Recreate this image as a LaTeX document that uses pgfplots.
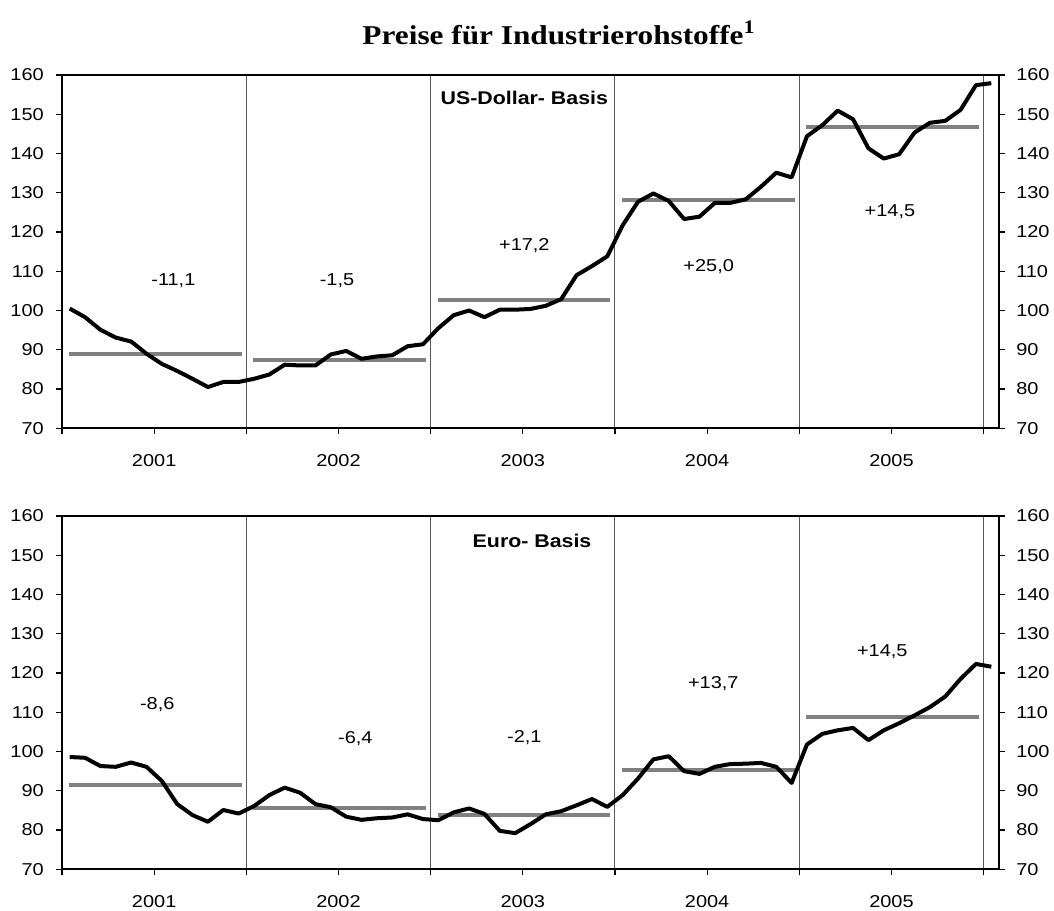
\documentclass[border=0pt]{standalone}
\usepackage{fontspec}
\setmainfont{Liberation Sans}[FakeStretch=1.16]
\newfontfamily\titlefont{Liberation Serif}[FakeStretch=1.15]
\usepackage{pgfplots}
\pgfplotsset{compat=1.18}
\usepackage{pgfplotstable}

% US-Dollar basis, monthly (x = month index + 0.5, Jan 2001 = 0.5)
\pgfplotstableread{
x y
0.5 100.5
1.5 98.3
2.5 95.1
3.5 93.1
4.5 92.1
5.5 89.0
6.5 86.4
7.5 84.6
8.5 82.6
9.5 80.5
10.5 81.8
11.5 81.8
12.5 82.6
13.5 83.7
14.5 86.2
15.5 86.0
16.5 86.0
17.5 88.8
18.5 89.7
19.5 87.7
20.5 88.3
21.5 88.6
22.5 90.9
23.5 91.4
24.5 95.5
25.5 98.8
26.5 100.0
27.5 98.3
28.5 100.2
29.5 100.2
30.5 100.4
31.5 101.2
32.5 102.9
33.5 109.0
34.5 111.3
35.5 113.8
36.5 121.7
37.5 127.7
38.5 129.8
39.5 127.9
40.5 123.3
41.5 123.9
42.5 127.4
43.5 127.4
44.5 128.3
45.5 131.5
46.5 135.1
47.5 133.9
48.5 144.4
49.5 147.2
50.5 150.9
51.5 148.7
52.5 141.3
53.5 138.7
54.5 139.8
55.5 145.3
56.5 147.8
57.5 148.3
58.5 151.1
59.5 157.4
60.5 157.9
}\usd

% Euro basis
\pgfplotstableread{
x y
0.5 98.6
1.5 98.4
2.5 96.3
3.5 96.1
4.5 97.2
5.5 96.1
6.5 92.5
7.5 86.6
8.5 83.8
9.5 82.1
10.5 85.1
11.5 84.2
12.5 86.1
13.5 88.9
14.5 90.8
15.5 89.5
16.5 86.6
17.5 85.8
18.5 83.4
19.5 82.6
20.5 83.0
21.5 83.2
22.5 84.0
23.5 82.8
24.5 82.5
25.5 84.5
26.5 85.5
27.5 84.1
28.5 79.8
29.5 79.2
30.5 81.5
31.5 84.0
32.5 84.8
33.5 86.3
34.5 87.9
35.5 85.9
36.5 88.9
37.5 93.1
38.5 98.0
39.5 98.8
40.5 95.0
41.5 94.3
42.5 96.1
43.5 96.8
44.5 96.9
45.5 97.1
46.5 96.1
47.5 92.0
48.5 101.8
49.5 104.5
50.5 105.4
51.5 106.0
52.5 102.9
53.5 105.4
54.5 107.2
55.5 109.2
56.5 111.3
57.5 114.0
58.5 118.5
59.5 122.3
60.5 121.6
}\eur

\definecolor{avggray}{RGB}{128,128,128}
\tikzset{
  ann/.style={font=\fontsize{8.6}{10}\selectfont},
  annb/.style={font=\bfseries\fontsize{9.2}{11}\selectfont},
  yearline/.style={black!65, line width=0.5pt},
}
\pgfplotsset{
  panel/.style={
    scale only axis, width=468.5pt, height=176.7pt,
    xmin=0, xmax=61, ymin=70, ymax=160,
    anchor=south west,
    axis line style={line width=1pt},
    tick style={black, line width=0.6pt},
    tick align=outside, major tick length=3pt,
    ytick={70,80,...,160},
    /pgf/number format/assume math mode=true,
    tick label style={font=\fontsize{8.6}{10}\selectfont},
    clip=false,
  },
  mainpanel/.style={
    panel,
    xtick={0,6,...,60},
    xticklabels={{},2001,{},2002,{},2003,{},2004,{},2005,{}},
    xtick pos=left, ytick pos=left,
    xticklabel style={yshift=-6.6pt},
    yticklabel style={xshift=-2.6pt},
  },
  rightpanel/.style={
    panel,
    xtick=\empty,
    ytick pos=right, yticklabel pos=right,
    yticklabel style={xshift=2.1pt},
  },
  dataline/.style={black, line width=2pt, line join=round, mark=none},
  avgline/.style={avggray, line width=2pt, mark=none},
}

\begin{document}
\begin{tikzpicture}
\path[use as bounding box] (0,0) rectangle (527pt,455pt);

\node[font=\titlefont\bfseries\fontsize{13.6}{16}\selectfont] at (279.5pt,438.5pt)
  {Preise für Industrierohstoffe\textsuperscript{1}};

% ---------- top panel: US-Dollar ----------
\begin{axis}[mainpanel, at={(31pt,240.85pt)}]
  \draw[yearline] (axis cs:12,70) -- (axis cs:12,160);
  \draw[yearline] (axis cs:24,70) -- (axis cs:24,160);
  \draw[yearline] (axis cs:36,70) -- (axis cs:36,160);
  \draw[yearline] (axis cs:48,70) -- (axis cs:48,160);
  \draw[yearline] (axis cs:60,70) -- (axis cs:60,160);
  \addplot[avgline] coordinates {(0.45,88.8) (11.7,88.8)};
  \addplot[avgline] coordinates {(12.45,87.5) (23.7,87.5)};
  \addplot[avgline] coordinates {(24.45,102.6) (35.7,102.6)};
  \addplot[avgline] coordinates {(36.45,128.1) (47.7,128.1)};
  \addplot[avgline] coordinates {(48.45,146.8) (59.7,146.8)};
  \addplot[dataline] table[x=x,y=y] {\usd};
  \node[ann] at (axis cs:7.25,107.7) {-11,1};
  \node[ann] at (axis cs:17.9,107.7) {-1,5};
  \node[ann] at (axis cs:30.1,116.5) {+17,2};
  \node[ann] at (axis cs:42.1,111.1) {+25,0};
  \node[ann] at (axis cs:53.9,125.1) {+14,5};
  \node[annb] at (axis cs:30.1,154.2) {US-Dollar- Basis};
\end{axis}
\begin{axis}[rightpanel, at={(31pt,240.85pt)}]
\end{axis}

% ---------- bottom panel: Euro ----------
\begin{axis}[mainpanel, at={(31pt,20.35pt)}]
  \draw[yearline] (axis cs:12,70) -- (axis cs:12,160);
  \draw[yearline] (axis cs:24,70) -- (axis cs:24,160);
  \draw[yearline] (axis cs:36,70) -- (axis cs:36,160);
  \draw[yearline] (axis cs:48,70) -- (axis cs:48,160);
  \draw[yearline] (axis cs:60,70) -- (axis cs:60,160);
  \addplot[avgline] coordinates {(0.45,91.4) (11.7,91.4)};
  \addplot[avgline] coordinates {(12.45,85.5) (23.7,85.5)};
  \addplot[avgline] coordinates {(24.45,83.8) (35.7,83.8)};
  \addplot[avgline] coordinates {(36.45,95.2) (47.7,95.2)};
  \addplot[avgline] coordinates {(48.45,108.9) (59.7,108.9)};
  \addplot[dataline] table[x=x,y=y] {\eur};
  \node[ann] at (axis cs:6.2,112.0) {-8,6};
  \node[ann] at (axis cs:19.1,103.3) {-6,4};
  \node[ann] at (axis cs:30.1,103.5) {-2,1};
  \node[ann] at (axis cs:42.4,117.3) {+13,7};
  \node[ann] at (axis cs:53.4,125.3) {+14,5};
  \node[annb] at (axis cs:30.6,153.6) {Euro- Basis};
\end{axis}
\begin{axis}[rightpanel, at={(31pt,20.35pt)}]
\end{axis}
\end{tikzpicture}
\end{document}
